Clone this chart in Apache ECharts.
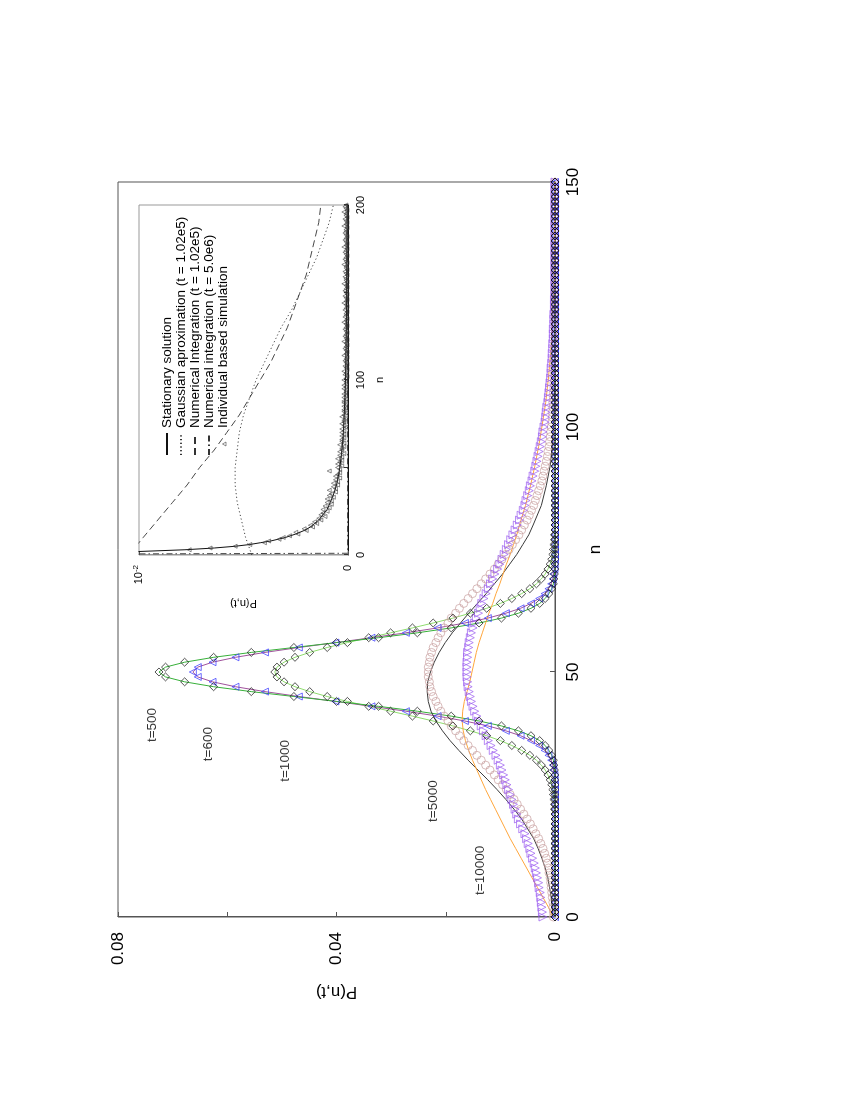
<!DOCTYPE html>
<html><head><meta charset="utf-8">
<script src="https://cdn.jsdelivr.net/npm/echarts/dist/echarts.min.js"></script>
<style>
html,body{margin:0;padding:0;width:850px;height:1100px;overflow:hidden;background:#fff;}
#wrap{position:absolute;left:0;top:1100px;width:1100px;height:850px;transform-origin:0 0;transform:rotate(-90deg);}
</style></head><body><div id="wrap"></div>
<script>
// ---------- main plot tick labels ----------
const nMainLabels = ['0','50','100','150'];
const pMainLabels = ['0','','0.04','','0.08'];
// ---------- inset tick labels ----------
const nInsetLabels = ['0','','100','','200'];
const pInsetLabels = ['0','{b|10}{s|-2}'];

// ---------- main plot: P(n,t) at n = 0..150 (index = n) ----------
const P500 = [
 0,0,0,0,0,0,0,0,0,0, 0,0,0,0,0,0,0,0,0,0, 0,0,0,0,0,0,0,0,0,0,
 .0001,.0002,.0003,.0006,.0011,.0018,.0028,.0044,.0067,.0098,
 .0139,.0190,.0252,.0323,.0400,.0478,.0556,.0625,.0678,.0713,
 .0725,.0713,.0678,.0625,.0556,.0478,.0400,.0323,.0252,.0190,
 .0139,.0098,.0067,.0044,.0028,.0018,.0011,.0006,.0003,.0002,
 .0001,0,0,0,0,0,0,0,0,0,
 0,0,0,0,0,0,0,0,0,0, 0,0,0,0,0,0,0,0,0,0, 0,0,0,0,0,0,0,0,0,0,
 0,0,0,0,0,0,0,0,0,0, 0,0,0,0,0,0,0,0,0,0, 0,0,0,0,0,0,0,0,0,0,
 0,0,0,0,0,0,0,0,0,0, 0];
const P600 = [
 0,0,0,0,0,0,0,0,0,0, 0,0,0,0,0,0,0,0,0,0,
 0,0,0,0,0,0,0,0,.0001,.0001,
 .0003,.0004,.0007,.0012,.0019,.0029,.0044,.0063,.0090,.0123,
 .0165,.0215,.0273,.0336,.0402,.0469,.0531,.0585,.0627,.0654,
 .0663,.0654,.0627,.0585,.0531,.0469,.0402,.0336,.0273,.0215,
 .0165,.0123,.0090,.0063,.0044,.0029,.0019,.0012,.0007,.0004,
 .0003,.0001,.0001,0,0,0,0,0,0,0,
 0,0,0,0,0,0,0,0,0,0, 0,0,0,0,0,0,0,0,0,0, 0,0,0,0,0,0,0,0,0,0,
 0,0,0,0,0,0,0,0,0,0, 0,0,0,0,0,0,0,0,0,0, 0,0,0,0,0,0,0,0,0,0,
 0,0,0,0,0,0,0,0,0,0, 0];
const P1000 = [
 0,0,0,0,0,0,0,0,0,0, 0,0,0,0,0,0,0,0,0,0,
 0,0,.0001,.0001,.0002,.0003,.0004,.0006,.0009,.0013,
 .0018,.0025,.0034,.0046,.0061,.0079,.0100,.0125,.0155,.0187,
 .0223,.0261,.0301,.0341,.0380,.0417,.0449,.0476,.0496,.0509,
 .0513,.0509,.0496,.0476,.0449,.0417,.0380,.0341,.0301,.0261,
 .0223,.0187,.0155,.0125,.0100,.0079,.0061,.0046,.0034,.0025,
 .0018,.0013,.0009,.0006,.0004,.0003,.0002,.0001,.0001,0,
 0,0,0,0,0,0,0,0,0,0, 0,0,0,0,0,0,0,0,0,0, 0,0,0,0,0,0,0,0,0,0,
 0,0,0,0,0,0,0,0,0,0, 0,0,0,0,0,0,0,0,0,0, 0,0,0,0,0,0,0,0,0,0,
 0,0,0,0,0,0,0,0,0,0, 0];
const P5000sim = [
 .0003,.0003,.0004,.0004,.0005,.0006,.0007,.0008,.0009,.0011,
 .0012,.0014,.0016,.0019,.0022,.0026,.0030,.0035,.0040,.0045,
 .0051,.0057,.0063,.0069,.0075,.0082,.0089,.0096,.0104,.0111,
 .0119,.0127,.0135,.0143,.0151,.0159,.0167,.0175,.0182,.0190,
 .0196,.0203,.0209,.0214,.0218,.0223,.0226,.0229,.0230,.0232,
 .0232,.0232,.0230,.0229,.0226,.0223,.0218,.0214,.0209,.0203,
 .0196,.0190,.0182,.0175,.0167,.0159,.0151,.0143,.0135,.0127,
 .0119,.0111,.0104,.0097,.0090,.0084,.0078,.0072,.0066,.0061,
 .0056,.0051,.0047,.0043,.0039,.0036,.0033,.0030,.0027,.0024,
 .0022,.0020,.0018,.0016,.0014,.0013,.0011,.0010,.0009,.0008,
 .0007,.0006,.0005,.0005,.0004,.0004,.0003,.0003,.0002,.0002,
 .0002,.0001,.0001,.0001,.0001,.0001,0,0,0,0,
 0,0,0,0,0,0,0,0,0,0, 0,0,0,0,0,0,0,0,0,0, 0,0,0,0,0,0,0,0,0,0,
 0];
const P10000sim = [
 .0022,.0023,.0024,.0025,.0026,.0027,.0029,.0030,.0032,.0034,
 .0036,.0038,.0041,.0044,.0046,.0049,.0052,.0055,.0059,.0063,
 .0067,.0070,.0073,.0076,.0079,.0082,.0085,.0088,.0091,.0094,
 .0097,.0100,.0104,.0108,.0113,.0117,.0122,.0126,.0131,.0135,
 .0140,.0143,.0147,.0150,.0153,.0155,.0157,.0159,.0160,.0161,
 .0161,.0161,.0161,.0160,.0160,.0158,.0157,.0155,.0153,.0150,
 .0147,.0144,.0140,.0137,.0134,.0130,.0126,.0122,.0118,.0114,
 .0110,.0105,.0101,.0097,.0093,.0089,.0085,.0081,.0077,.0073,
 .0069,.0065,.0062,.0058,.0055,.0053,.0050,.0047,.0045,.0042,
 .0040,.0037,.0035,.0033,.0031,.0029,.0027,.0025,.0023,.0022,
 .0020,.0018,.0017,.0016,.0015,.0013,.0012,.0011,.0010,.0009,
 .0008,.0007,.0007,.0006,.0005,.0005,.0004,.0004,.0003,.0003,
 .0003,.0002,.0002,.0002,.0001,.0001,.0001,0,0,0,
 0,0,0,0,0,0,0,0,0,0, 0,0,0,0,0,0,0,0,0,0,
 0];
// theory curves for t=5000 and t=10000: [n, P]
const line5000 = [[0,.0004],[2,.0005],[4,.0007],[6,.0010],[8,.0013],[10,.0018],[12,.0024],[14,.0031],[16,.0039],[18,.0050],
 [20,.0061],[22,.0075],[24,.0090],[26,.0106],[28,.0123],[30,.0141],[32,.0159],[34,.0176],[36,.0192],[38,.0206],
 [40,.0218],[42,.0227],[44,.0232],[46,.0234],[48,.0233],[50,.0228],[52,.0221],[54,.0212],[56,.0201],[58,.0188],
 [60,.0173],[62,.0158],[64,.0142],[66,.0126],[68,.0111],[70,.0096],[72,.0083],[74,.0070],[76,.0059],[78,.0048],
 [80,.0040],[84,.0025],[88,.0016],[92,.0009],[96,.0005],[100,.0003],[105,.0001],[110,0],[150,0]];
const line10000 = [[0,.0004],[2,.0012],[4,.0022],[6,.0032],[8,.0042],[10,.0052],[12,.0062],[14,.0072],[16,.0082],[18,.0091],
 [20,.0100],[22,.0109],[24,.0118],[26,.0127],[28,.0135],[30,.0143],[32,.0151],[34,.0158],[36,.0164],[38,.0168],
 [40,.0170],[42,.0169],[44,.0166],[46,.0161],[48,.0156],[50,.0152],[52,.0148],[54,.0144],[56,.0139],[58,.0133],
 [60,.0127],[62,.0121],[64,.0114],[66,.0108],[68,.0101],[70,.0095],[72,.0089],[74,.0082],[76,.0076],[78,.0070],
 [80,.0065],[84,.0054],[88,.0045],[92,.0037],[96,.0030],[100,.0024],[105,.0017],[110,.0012],[115,.0008],[120,.0005],
 [125,.0003],[130,.0002],[140,.0001],[150,0]];
// curve labels
const curveLabels = ['t=500','t=600','t=1000','t=5000','t=10000'];
const curveLabelN = [35.7, 31.8, 27.6, 19.4, 4.5];
const curveLabelP = [.0738, .0635, .0494, .0223, .0137];

// ---------- inset ----------
const stationary = [[1,.0150],[2,.0100],[3,.0078],[4,.0064],[5,.0054],[6,.0047],[7,.0042],[8,.0037],[10,.0030],[12,.0025],
 [14,.0021],[16,.0018],[18,.0016],[20,.0014],[23,.0012],[26,.0010],[30,.00085],[35,.00068],[40,.00055],[45,.00046],
 [50,.00039],[60,.00029],[70,.00022],[80,.00018],[90,.00015],[100,.00012],[120,.00009],[140,.00007],[160,.00006],[180,.00005],[200,.00004]];
const gaussApprox = [[0,.0046],[10,.0049],[20,.0051],[30,.0053],[40,.0054],[50,.0054],[60,.0053],[70,.0052],[80,.0050],[90,.0047],
 [100,.0044],[110,.0040],[120,.0036],[130,.0032],[140,.0027],[150,.0023],[160,.0019],[170,.0015],[180,.0012],[190,.0009],[200,.0007]];
const numInt1 = [[0,.0105],[10,.0098],[20,.0091],[30,.0084],[40,.0077],[50,.0071],[60,.0064],[70,.0058],[80,.0052],[90,.0047],
 [100,.0042],[110,.0037],[120,.0033],[130,.0029],[140,.0026],[150,.0023],[160,.0020],[170,.0018],[180,.0016],[190,.0014],[200,.0013]];
const numInt2 = [[0,.03],[1,.00002],[200,.00002]];
// individual based simulation, n = 1..200
const simN0 = 1;
const simP = [
 .0148,.0102,.0076,.0066,.0054,.0047,.0040,.0038,.0033,.0031,
 .0028,.0024,.0025,.0020,.0021,.0017,.0018,.0015,.0016,.0013,
 .0014,.0011,.0013,.0012,.0010,.0012,.0009,.0011,.0008,.0010,
 .0008,.0010,.0007,.0009,.0008,.0006,.0009,.0006,.0007,.0005,
 .0007,.0005,.0006,.0004,.0006,.0005,.0004,.0009,.0004,.0005,
 .0003,.0005,.0004,.0003,.0005,.0003,.0004,.0002,.0004,.0003,
 .0003,.0002,.0004,.0002,.0003,.0003,.0002,.0003,.0002,.0003,
 .0002,.0003,.0001,.0002,.0003,.0002,.0002,.0001,.0003,.0002,
 .0001,.0002,.0002,.0001,.0002,.0001,.0002,.0002,.0001,.0002,
 .0001,.0002,.0001,.0001,.0002,.0001,.0002,.0001,.0001,.0002,
 .0001,.00005,.00015,.0001,.0002,.00005,.0001,.00015,.00005,.0001,
 .00015,.0001,.00005,.0002,.0001,.00005,.0001,.00015,.0001,.00005,
 .0001,.0002,.00005,.0001,.00015,.0001,.00005,.0001,.00015,.0001,
 .00005,.0001,.0002,.0001,.00005,.00015,.0001,.0001,.00005,.00015,
 .0001,.00005,.0001,.0002,.0001,.00005,.0001,.00015,.00005,.0001,
 .00015,.0001,.00005,.0001,.0002,.00005,.0001,.0001,.00015,.00005,
 .0001,.00015,.00005,.0001,.0001,.0002,.00005,.0001,.00015,.0001,
 .00005,.0001,.00015,.0001,.00005,.0002,.0001,.00005,.0001,.00015,
 .0001,.00005,.0001,.00015,.0001,.0001,.00005,.0002,.0001,.00005,
 .0001,.00015,.00005,.0001,.0001,.0002,.00005,.0001,.00015,.0001];
const legendNames = ['Stationary solution','Gaussian aproximation (t = 1.02e5)','Numerical Integration (t = 1.02e5)','Numerical integration (t = 5.0e6)','Individual based simulation'];

const FONT = '"Liberation Sans", Arial, Helvetica, sans-serif';
const byIndex = arr => arr.map((p, i) => [i, p]);
const simPairs = simP.map((p, i) => [simN0 + i, p]);

const lineS = (data, color, x, extra) => Object.assign({
  type: 'line', xAxisIndex: x, yAxisIndex: x, data: data, symbol: 'none', showSymbol: false,
  lineStyle: { color: color, width: 1 }, itemStyle: { color: color }, silent: true, clip: true, z: 3
}, extra || {});
const markS = (data, symbol, color, size, extra) => Object.assign({
  type: 'scatter', xAxisIndex: 0, yAxisIndex: 0, data: data, symbol: symbol, symbolSize: size,
  itemStyle: { color: 'rgba(255,255,255,0)', borderColor: color, borderWidth: 0.9 }, silent: true, clip: false, z: 4
}, extra || {});
const noSym = { opacity: 0, color: 'rgba(0,0,0,0)', borderWidth: 0 };

const chart = echarts.init(document.getElementById('wrap'), null, { renderer: 'canvas' });
const option = {
  animation: false,
  backgroundColor: '#ffffff',
  textStyle: { fontFamily: FONT },
  grid: [
    { left: 183, right: 182, top: 118, bottom: 295, show: true, borderColor: '#555', borderWidth: 1, containLabel: false, outerBoundsMode: 'none' },
    { left: 545, right: 205, top: 139, bottom: 502, show: true, borderColor: '#999', borderWidth: 1, containLabel: false, outerBoundsMode: 'none' }
  ],
  xAxis: [
    { gridIndex: 0, type: 'value', min: 0, max: 150, interval: 50,
      axisLine: { show: true, onZero: false, lineStyle: { color: '#555', width: 1 } },
      axisTick: { show: true, inside: true, length: 5, lineStyle: { color: '#555' } },
      axisLabel: { fontSize: 17, color: '#000', margin: 10, fontFamily: FONT, formatter: v => nMainLabels[Math.round(v / 50)] },
      splitLine: { show: false },
      name: 'n', nameLocation: 'middle', nameGap: 31, nameTextStyle: { fontSize: 17, color: '#000', fontFamily: FONT } },
    { gridIndex: 1, type: 'value', min: 0, max: 200, interval: 50,
      axisLine: { show: true, onZero: false, lineStyle: { color: '#111', width: 1 } },
      axisTick: { show: true, inside: true, length: 4, lineStyle: { color: '#333' } },
      axisLabel: { fontSize: 11, color: '#000', margin: 7, fontFamily: FONT, formatter: v => nInsetLabels[Math.round(v / 50)] },
      splitLine: { show: false },
      name: 'n', nameLocation: 'middle', nameGap: 26, nameTextStyle: { fontSize: 11, color: '#000', fontFamily: FONT } }
  ],
  yAxis: [
    { gridIndex: 0, type: 'value', min: 0, max: 0.08, interval: 0.02,
      axisLine: { show: true, onZero: false, lineStyle: { color: '#555', width: 1 } },
      axisTick: { show: true, inside: true, length: 5, lineStyle: { color: '#555' } },
      axisLabel: { fontSize: 17, color: '#000', margin: 15, fontFamily: FONT, formatter: v => pMainLabels[Math.round(v / 0.02)] },
      splitLine: { show: false },
      name: 'P(n,t)', nameLocation: 'middle', nameGap: 66, nameRotate: 90, nameTextStyle: { fontSize: 17, color: '#000', fontFamily: FONT } },
    { gridIndex: 1, type: 'value', min: 0, max: 0.01, interval: 0.01,
      axisLine: { show: true, onZero: false, lineStyle: { color: '#999', width: 1 } },
      axisTick: { show: true, inside: true, length: 4, lineStyle: { color: '#555' } },
      axisLabel: { fontSize: 11, color: '#000', margin: 10, fontFamily: FONT,
        formatter: v => pInsetLabels[Math.round(v / 0.01)],
        rich: { b: { fontSize: 11, fontFamily: FONT, color: '#000' }, s: { fontSize: 8, fontFamily: FONT, color: '#000', padding: [0, 0, 6, 0] } } },
      splitLine: { show: false },
      name: 'P(n,t)', nameLocation: 'middle', nameGap: 43, nameRotate: 90, nameTextStyle: { fontSize: 11, color: '#000', fontFamily: FONT } }
  ],
  legend: {
    show: true, orient: 'vertical', left: 639, top: 155, itemWidth: 22, itemHeight: 8, itemGap: 0,
    selectedMode: false,
    textStyle: { fontSize: 13.5, lineHeight: 12, color: '#000', fontFamily: FONT },
    data: [
      { name: legendNames[0], itemStyle: noSym },
      { name: legendNames[1], itemStyle: noSym },
      { name: legendNames[2], itemStyle: noSym },
      { name: legendNames[3], itemStyle: noSym },
      { name: legendNames[4], icon: 'path://M0,0M22,8M9,7L11,3.5L13,7Z',
        itemStyle: { color: 'rgba(255,255,255,0)', borderColor: '#333', borderWidth: 0.7 } }
    ]
  },
  series: [
    // main theory curves
    lineS(byIndex(P1000), '#8fdc6e', 0),
    lineS(byIndex(P600), '#a0529c', 0),
    lineS(byIndex(P500), '#38b03a', 0),
    lineS(line5000, '#3a3a3a', 0),
    lineS(line10000, '#ffa63c', 0),
    // main simulation markers
    markS(byIndex(P5000sim), 'circle', '#c9a0a0', 8),
    markS(byIndex(P10000sim), 'triangle', '#9a5cf0', 8, { symbolRotate: 180 }),
    markS(byIndex(P600), 'triangle', '#3535ff', 7),
    markS(byIndex(P1000), 'diamond', '#111', 8),
    markS(byIndex(P500), 'diamond', '#111', 8),
    // curve labels
    { type: 'scatter', xAxisIndex: 0, yAxisIndex: 0, symbolSize: 0, silent: true, z: 6,
      data: curveLabels.map((t, i) => ({ value: [curveLabelN[i], curveLabelP[i]], label: { formatter: t } })),
      label: { show: true, position: 'right', distance: 0, fontSize: 13.5, color: '#000', fontFamily: FONT } },
    // inset
    lineS(stationary, '#111', 1, { name: legendNames[0] }),
    lineS(gaussApprox, '#333', 1, { name: legendNames[1], lineStyle: { color: '#333', width: 0.9, type: [1.2, 2.5] } }),
    lineS(numInt1, '#333', 1, { name: legendNames[2], lineStyle: { color: '#333', width: 0.9, type: [7, 4] } }),
    lineS(numInt2, '#333', 1, { name: legendNames[3], lineStyle: { color: '#333', width: 0.9, type: [6, 3, 1.5, 3] } }),
    { name: legendNames[4], type: 'scatter', xAxisIndex: 1, yAxisIndex: 1, data: simPairs, symbol: 'triangle', symbolSize: 4,
      itemStyle: { color: 'rgba(255,255,255,0)', borderColor: '#333', borderWidth: 0.7 }, silent: true, clip: true, z: 4 }
  ]
};
chart.setOption(option);
</script>
</body></html>
